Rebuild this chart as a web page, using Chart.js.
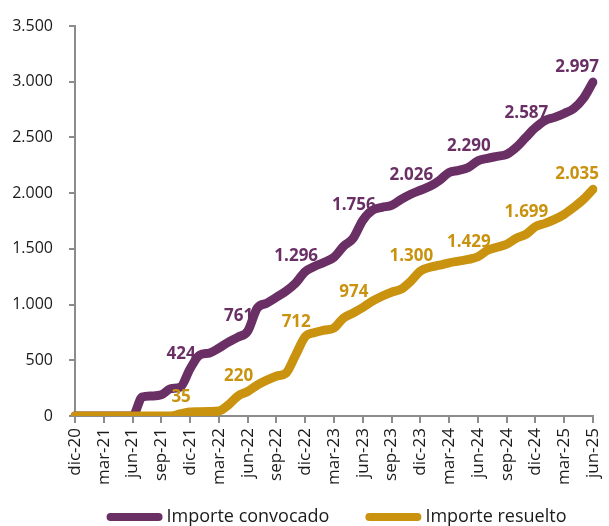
<!DOCTYPE html>
<html>
<head>
<meta charset="utf-8">
<script src="https://cdn.jsdelivr.net/npm/chart.js@4/dist/chart.umd.min.js"></script>
<style>
  html, body { margin: 0; padding: 0; background: #fff; }
  #wrap { width: 609px; height: 526px; }
</style>
</head>
<body>
<div id="wrap"><canvas id="importesChart"></canvas></div>
<script>
// months from dic-20 to jun-25
const categories = [
  'dic-20', 'ene-21', 'feb-21', 'mar-21', 'abr-21', 'may-21', 'jun-21', 'jul-21', 'ago-21', 'sep-21', 'oct-21', 'nov-21',
  'dic-21', 'ene-22', 'feb-22', 'mar-22', 'abr-22', 'may-22', 'jun-22', 'jul-22', 'ago-22', 'sep-22', 'oct-22', 'nov-22',
  'dic-22', 'ene-23', 'feb-23', 'mar-23', 'abr-23', 'may-23', 'jun-23', 'jul-23', 'ago-23', 'sep-23', 'oct-23', 'nov-23',
  'dic-23', 'ene-24', 'feb-24', 'mar-24', 'abr-24', 'may-24', 'jun-24', 'jul-24', 'ago-24', 'sep-24', 'oct-24', 'nov-24',
  'dic-24', 'ene-25', 'feb-25', 'mar-25', 'abr-25', 'may-25', 'jun-25'
];

const importeConvocado = [
  0, 0, 0, 0, 0, 0, 0, 170, 180, 190, 245, 260,
  424, 547, 565, 609, 663, 708, 761, 968, 1013, 1066, 1120, 1192,
  1296, 1344, 1380, 1425, 1523, 1595, 1756, 1846, 1873, 1890, 1944, 1990,
  2026, 2061, 2115, 2186, 2204, 2231, 2290, 2312, 2330, 2348, 2410, 2500,
  2587, 2652, 2680, 2715, 2760, 2850, 2997
];

const importeResuelto = [
  0, 0, 0, 0, 0, 0, 0, 0, 0, 0, 0, 20,
  35, 38, 40, 45, 100, 180, 220, 278, 322, 358, 385, 547,
  712, 750, 770, 790, 880, 925, 974, 1030, 1075, 1111, 1138, 1210,
  1300, 1335, 1353, 1375, 1390, 1405, 1429, 1487, 1514, 1541, 1595, 1630,
  1699, 1729, 1765, 1810, 1873, 1944, 2035
];

// points that carry a value label (every semester from dic-21)
const labelIdx = [12, 18, 24, 30, 36, 42, 48, 54];

const yTicks = [0, 500, 1000, 1500, 2000, 2500, 3000, 3500];

const PURPLE = '#6a2f65';
const GOLD = '#c9920f';
const AXIS = '#8c8c8c';
const FONT = "'Open Sans', 'Noto Sans', sans-serif";
const LINE_W = 9;

function fmt(v) {
    return String(v).replace(/\B(?=(\d{3})+(?!\d))/g, '.');
}

// value labels above the chosen points
const valueLabels = {
    id: 'valueLabels',
    afterDatasetsDraw(chart) {
        const ctx = chart.ctx;
        ctx.save();
        ctx.font = "700 17px " + FONT;
        ctx.textAlign = 'center';
        ctx.textBaseline = 'middle';
        chart.data.datasets.forEach((ds, di) => {
            const meta = chart.getDatasetMeta(di);
            ctx.fillStyle = ds.borderColor;
            labelIdx.forEach(i => {
                const pt = meta.data[i];
                const txt = fmt(ds.data[i]);
                const w = ctx.measureText(txt).width;
                let x = pt.x - 9;
                if (x + w / 2 > chart.width - 10) x = chart.width - 10 - w / 2;
                ctx.fillText(txt, x, pt.y - 15);
            });
        });
        ctx.restore();
    }
};

// legend row under the axis: thick line swatch + text, centred on the plot area
const lineLegend = {
    id: 'lineLegend',
    afterDraw(chart) {
        const ctx = chart.ctx;
        const area = chart.chartArea;
        const swatch = 48, cap = LINE_W / 2, textGap = 8, itemGap = 40;
        ctx.save();
        ctx.font = "18px " + FONT;
        ctx.textBaseline = 'middle';
        ctx.textAlign = 'left';
        const items = chart.data.datasets.map(ds => ({
            text: ds.label, color: ds.borderColor, w: ctx.measureText(ds.label).width
        }));
        let total = 0;
        items.forEach((it, i) => { total += swatch + textGap + it.w + (i ? itemGap : 0); });
        let x = (area.left + area.right) / 2 - total / 2 + cap;
        const y = 517;
        items.forEach(it => {
            ctx.strokeStyle = it.color;
            ctx.lineWidth = 8;
            ctx.lineCap = 'round';
            ctx.beginPath();
            ctx.moveTo(x, y);
            ctx.lineTo(x + swatch, y);
            ctx.stroke();
            ctx.fillStyle = '#1a1a1a';
            ctx.fillText(it.text, x + swatch + textGap, y);
            x += swatch + textGap + it.w + itemGap;
        });
        ctx.restore();
    }
};

document.addEventListener('DOMContentLoaded', function () {
    const ctx = document.getElementById('importesChart').getContext('2d');
    new Chart(ctx, {
        type: 'line',
        data: {
            labels: categories,
            datasets: [
                // gold is drawn on top of purple where both sit at zero
                { label: 'Importe convocado', data: importeConvocado, borderColor: PURPLE, backgroundColor: PURPLE, order: 2 },
                { label: 'Importe resuelto', data: importeResuelto, borderColor: GOLD, backgroundColor: GOLD, order: 1 }
            ]
        },
        options: {
            responsive: true,
            maintainAspectRatio: false,
            animation: false,
            layout: { padding: { top: 26, right: 16, left: 0, bottom: 0 } },
            elements: {
                line: { borderWidth: LINE_W, borderCapStyle: 'round', borderJoinStyle: 'round', cubicInterpolationMode: 'monotone' },
                point: { radius: 0, hoverRadius: 0 }
            },
            plugins: {
                tooltip: { enabled: false },
                legend: { display: false }
            },
            scales: {
                x: {
                    offset: false,
                    grid: { drawOnChartArea: false, drawTicks: true, tickLength: 7, color: AXIS, lineWidth: 2 },
                    border: { display: true, color: AXIS, width: 2 },
                    ticks: {
                        autoSkip: false,
                        maxRotation: 90,
                        minRotation: 90,
                        padding: 5,
                        color: '#1a1a1a',
                        font: { family: FONT, size: 17 },
                        callback: function (val, i) { return i % 3 === 0 ? categories[i] : null; }
                    },
                    afterFit: function (scale) {
                        scale.height = 110;
                        scale.paddingLeft = 0;
                        scale.paddingRight = 0;
                    }
                },
                y: {
                    min: 0,
                    max: 3500,
                    afterBuildTicks: function (scale) { scale.ticks = yTicks.map(v => ({ value: v })); },
                    grid: { drawOnChartArea: false, drawTicks: true, tickLength: 6, color: AXIS, lineWidth: 2 },
                    border: { display: true, color: AXIS, width: 2 },
                    ticks: {
                        padding: 16,
                        color: '#1a1a1a',
                        font: { family: FONT, size: 16 },
                        callback: function (v) { return fmt(v); }
                    },
                    afterFit: function (scale) { scale.width = 75; }
                }
            }
        },
        plugins: [valueLabels, lineLegend]
    });
});
</script>
</body>
</html>
